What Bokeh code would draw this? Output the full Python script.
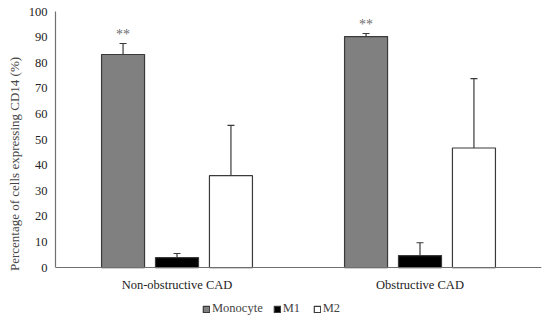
from bokeh.plotting import figure
from bokeh.models import ColumnDataSource, FactorRange, Whisker, TeeHead, Legend, LegendItem, FixedTicker, Range1d, CategoricalAxis
from bokeh.transform import dodge
from bokeh.core.properties import value
from bokeh.embed import file_html
from bokeh.resources import INLINE

categories = ["Non-obstructive CAD", "Obstructive CAD"]
series = ["Monocyte", "M1", "M2"]
monocyte = [83.2, 90.2]
monocyte_err = [4.3, 1.2]
m1 = [3.9, 4.7]
m1_err = [1.6, 5.0]
m2 = [35.9, 46.7]
m2_err = [19.6, 27.1]
significance = ["**", "**"]
y_ticks = [0, 10, 20, 30, 40, 50, 60, 70, 80, 90, 100]

FONT = "Liberation Serif"

p = figure(width=542, height=316, x_range=FactorRange(*categories, range_padding=0),
           y_range=Range1d(-19.1, 100), x_axis_location=None, output_backend="svg", toolbar_location=None,
           min_border_left=55, min_border_right=1, min_border_top=11, min_border_bottom=0)
p.outline_line_color = None
p.xgrid.grid_line_color = None
p.ygrid.grid_line_color = None
p.background_fill_color = "white"

src = ColumnDataSource(dict(
    cat=categories,
    monocyte=monocyte, monocyte_up=[v + e for v, e in zip(monocyte, monocyte_err)],
    m1=m1, m1_up=[v + e for v, e in zip(m1, m1_err)],
    m2=m2, m2_up=[v + e for v, e in zip(m2, m2_err)],
    sig=significance,
))

offsets = [-0.222, 0.0, 0.222]
fills = ["#808080", "#000000", "#ffffff"]
cols = ["monocyte", "m1", "m2"]
renderers = []
for off, col, fc in zip(offsets, cols, fills):
    r = p.vbar(x=dodge("cat", off, range=p.x_range), top=col, width=0.177, source=src,
               fill_color=fc, line_color="#3a3a3a", line_width=1.2)
    renderers.append(r)
    w = Whisker(base=dodge("cat", off, range=p.x_range), lower=col, upper=col + "_up", source=src,
                line_color="#3a3a3a", line_width=1.2,
                upper_head=TeeHead(size=7, line_color="#3a3a3a", line_width=1.2),
                lower_head=None)
    p.add_layout(w)

p.text(x=dodge("cat", offsets[0], range=p.x_range), y="monocyte_up", text="sig", source=src,
       y_offset=-9, text_align="center", text_baseline="middle",
       text_font=value(FONT), text_font_size="14px", text_color="#6e6e6e")

xaxis = CategoricalAxis(fixed_location=0)
p.add_layout(xaxis, "below")

p.yaxis.ticker = FixedTicker(ticks=y_ticks)
p.yaxis.bounds = (0, 100)
p.yaxis.axis_label = "Percentage of cells expressing CD14 (%)"
p.yaxis.axis_label_text_font = FONT
p.yaxis.axis_label_text_font_style = "normal"
p.yaxis.axis_label_text_font_size = "13px"
p.yaxis.axis_label_standoff = 4
for ax in (xaxis, p.yaxis[0]):
    ax.major_label_text_font = FONT
    ax.major_label_text_font_size = "12.5px"
    ax.major_label_text_color = "#222222"
    ax.axis_line_color = "#707070"
    ax.axis_line_width = 1.2
    ax.major_tick_line_color = None
    ax.minor_tick_line_color = None
    ax.major_tick_out = 0
    ax.major_tick_in = 0
    ax.major_label_standoff = 8
xaxis.major_label_standoff = 10

legend = Legend(items=[LegendItem(label=s, renderers=[r]) for s, r in zip(series, renderers)],
                orientation="horizontal", location=(147, 0),
                label_text_font=FONT, label_text_font_size="12.5px",
                glyph_width=8, glyph_height=8, label_standoff=2, spacing=10,
                padding=0, margin=0, border_line_color=None, background_fill_alpha=0)
p.add_layout(legend, "center")

open("out.html", "w").write(file_html(p, INLINE))
